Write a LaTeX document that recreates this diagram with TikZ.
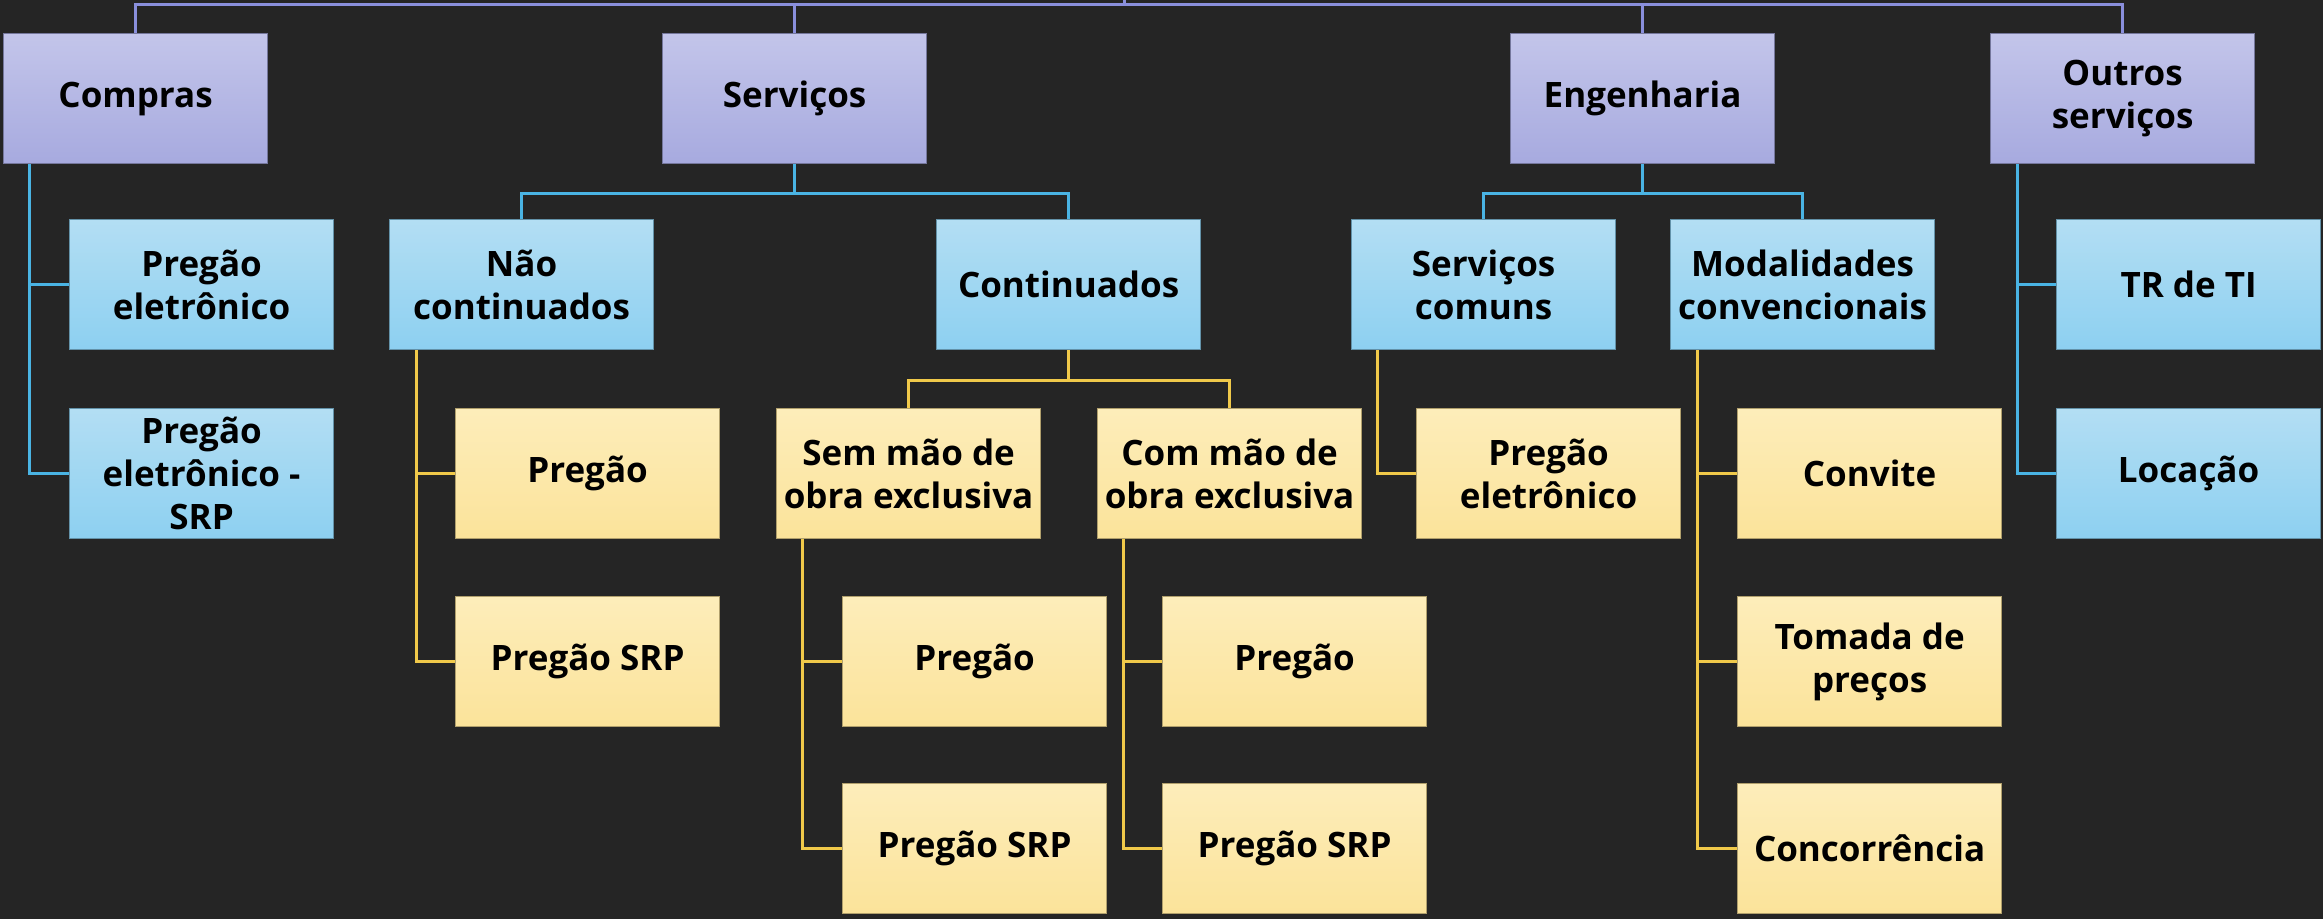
\documentclass[tikz,border=0pt]{standalone}
\usepackage{fontspec}
\setmainfont{Open Sans}
\definecolor{bgc}{HTML}{252525}
\definecolor{purtop}{HTML}{C3C5EA}
\definecolor{purbot}{HTML}{A7AADF}
\definecolor{purln}{HTML}{8A8FDC}
\definecolor{blutop}{HTML}{B3DEF3}
\definecolor{blubot}{HTML}{8DD0F1}
\definecolor{bluln}{HTML}{4AB4E4}
\definecolor{yeltop}{HTML}{FDEDBA}
\definecolor{yelbot}{HTML}{FBE39A}
\definecolor{yelln}{HTML}{F0C94A}
\begin{document}
\begin{tikzpicture}[x=1pt,y=-1pt,
  box/.style={rectangle,anchor=north west,minimum width=264pt,minimum height=130pt,
    inner sep=0pt,align=center,font=\fontsize{35}{43}\selectfont\bfseries,text=black,line width=1.2pt},
  purbox/.style={box,top color=purtop,bottom color=purbot,draw=purbot!70!black},
  blubox/.style={box,top color=blutop,bottom color=blubot,draw=blubot!70!black},
  yelbox/.style={box,top color=yeltop,bottom color=yelbot,draw=yelbot!70!black},
  purlink/.style={draw=purln,line width=3pt},
  blulink/.style={draw=bluln,line width=3pt},
  yellink/.style={draw=yelln,line width=3pt}]
\useasboundingbox (0,0) rectangle (2323,919);
\fill[bgc] (0,0) rectangle (2323,919);
% level 1
\node[purbox] (compras) at (3,33) {Compras};
\node[purbox] (servicos) at (662,33) {Serviços};
\node[purbox] (eng) at (1510,33) {Engenharia};
\node[purbox] (outros) at (1990,33) {Outros\\serviços};
% level 2
\node[blubox] (pe) at (69,219) {Pregão\\eletrônico};
\node[blubox] (pesrp) at (69,408) {Pregão\\eletrônico -\\SRP};
\node[blubox] (naocont) at (389,219) {Não\\continuados};
\node[blubox] (cont) at (936,219) {Continuados};
\node[blubox] (servcom) at (1351,219) {Serviços\\comuns};
\node[blubox] (modal) at (1670,219) {Modalidades\\convencionais};
\node[blubox] (trti) at (2056,219) {TR de TI};
\node[blubox] (locacao) at (2056,408) {Locação};
% level 3+
\node[yelbox] (ncp) at (455,408) {Pregão};
\node[yelbox] (ncpsrp) at (455,596) {Pregão SRP};
\node[yelbox] (sem) at (776,408) {Sem mão de\\obra exclusiva};
\node[yelbox] (com) at (1097,408) {Com mão de\\obra exclusiva};
\node[yelbox] (scpe) at (1416,408) {Pregão\\eletrônico};
\node[yelbox] (convite) at (1737,408) {Convite};
\node[yelbox] (tomada) at (1737,596) {Tomada de\\preços};
\node[yelbox] (concor) at (1737,783) {Concorrência};
\node[yelbox] (semp) at (842,596) {Pregão};
\node[yelbox] (semsrp) at (842,783) {Pregão SRP};
\node[yelbox] (comp) at (1162,596) {Pregão};
\node[yelbox] (comsrp) at (1162,783) {Pregão SRP};
% top connectors
\coordinate (root) at (1124,0);
\coordinate (rootbar) at (1124,4);
\draw[purlink] (root) -- (rootbar);
\draw[purlink] (compras.north) |- (rootbar) -| (outros.north);
\draw[purlink] (servicos.north) -- (servicos.north |- rootbar);
\draw[purlink] (eng.north) -- (eng.north |- rootbar);
% blue connectors
\draw[blulink] (compras.south west) ++(26,0) |- (pe.west);
\draw[blulink] (compras.south west) ++(26,0) |- (pesrp.west);
\draw[blulink] (servicos.south) -- ++(0,29) -| (naocont.north);
\draw[blulink] (servicos.south) -- ++(0,29) -| (cont.north);
\draw[blulink] (eng.south) -- ++(0,29) -| (servcom.north);
\draw[blulink] (eng.south) -- ++(0,29) -| (modal.north);
\draw[blulink] (outros.south west) ++(27,0) |- (trti.west);
\draw[blulink] (outros.south west) ++(27,0) |- (locacao.west);
% yellow connectors
\draw[yellink] (naocont.south west) ++(27,0) |- (ncp.west);
\draw[yellink] (naocont.south west) ++(27,0) |- (ncpsrp.west);
\draw[yellink] (cont.south) -- ++(0,30) -| (sem.north);
\draw[yellink] (cont.south) -- ++(0,30) -| (com.north);
\draw[yellink] (sem.south west) ++(26,0) |- (semp.west);
\draw[yellink] (sem.south west) ++(26,0) |- (semsrp.west);
\draw[yellink] (com.south west) ++(26,0) |- (comp.west);
\draw[yellink] (com.south west) ++(26,0) |- (comsrp.west);
\draw[yellink] (servcom.south west) ++(26,0) |- (scpe.west);
\draw[yellink] (modal.south west) ++(27,0) |- (convite.west);
\draw[yellink] (modal.south west) ++(27,0) |- (tomada.west);
\draw[yellink] (modal.south west) ++(27,0) |- (concor.west);
\end{tikzpicture}
\end{document}
